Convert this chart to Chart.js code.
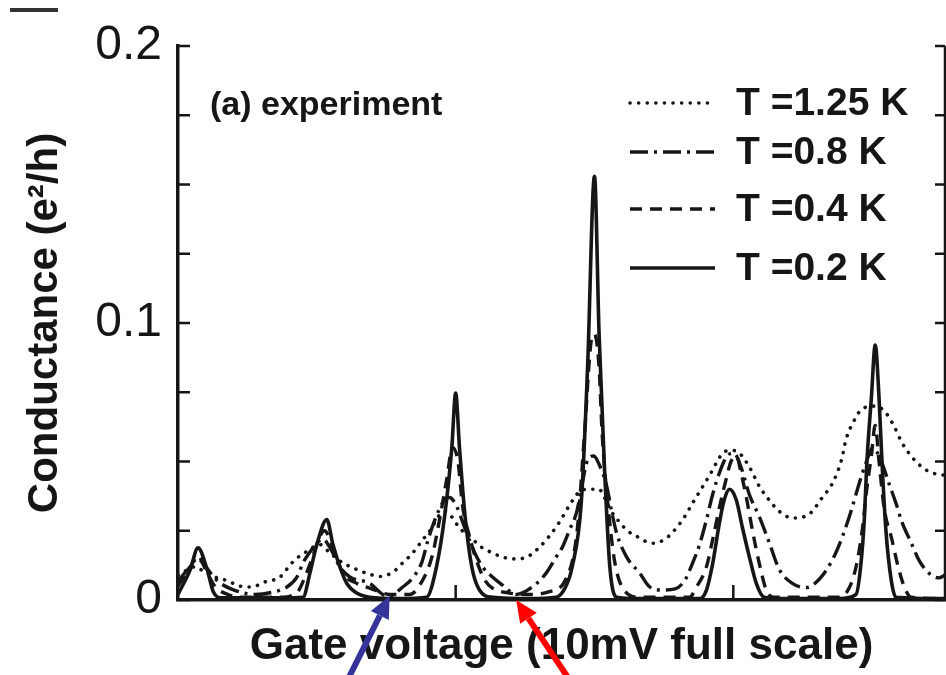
<!DOCTYPE html>
<html>
<head>
<meta charset="utf-8">
<title>Conductance vs gate voltage</title>
<script src="https://cdn.jsdelivr.net/npm/chart.js@4.4.1/dist/chart.umd.min.js"></script>
<style>
  html, body { margin: 0; padding: 0; background: #fff; }
</style>
</head>
<body>
<canvas id="myChart" width="946" height="675"></canvas>
<script>
// gate voltage in mV (10 mV full scale), conductance in e^2/h
var temps = ["T =1.25 K", "T =0.8 K", "T =0.4 K", "T =0.2 K"];

// T = 1.25 K (dotted)
var vT125 = [0, 0.13, 0.22, 0.35, 0.51, 0.64, 0.81, 0.96, 1.13, 1.33, 1.43, 1.52, 1.65, 1.76, 1.85, 1.98, 2.15, 2.33, 2.50, 2.63,
  2.80, 2.93, 3.06, 3.19, 3.31, 3.39, 3.48, 3.57, 3.67, 3.80, 3.96, 4.10, 4.23, 4.43, 4.58, 4.71, 4.84, 4.97, 5.10, 5.23,
  5.36, 5.49, 5.56, 5.65, 5.76, 5.86, 5.98, 6.11, 6.21, 6.35, 6.45, 6.58, 6.71, 6.82, 6.93, 7.03, 7.12, 7.23, 7.32, 7.45,
  7.58, 7.71, 7.84, 8.01, 8.23, 8.40, 8.53, 8.65, 8.71, 8.82, 8.92, 9.10, 9.23, 9.34, 9.44, 9.57, 9.70, 9.82, 10];
var gT125 = [0.009, 0.011, 0.012, 0.010, 0.008, 0.007, 0.005, 0.0047, 0.0065, 0.0083, 0.0115, 0.0144, 0.017, 0.019, 0.020, 0.017, 0.0134, 0.011, 0.0093, 0.0085,
  0.010, 0.0134, 0.017, 0.0217, 0.026, 0.030, 0.032, 0.030, 0.026, 0.023, 0.019, 0.017, 0.0155, 0.0148, 0.016, 0.019, 0.023, 0.028, 0.034, 0.039,
  0.040, 0.040, 0.037, 0.032, 0.028, 0.025, 0.023, 0.021, 0.0205, 0.022, 0.0245, 0.029, 0.035, 0.040, 0.045, 0.050, 0.0535, 0.054, 0.053, 0.048,
  0.041, 0.036, 0.032, 0.0296, 0.031, 0.037, 0.042, 0.0505, 0.058, 0.065, 0.069, 0.070, 0.0675, 0.0625, 0.0567, 0.0516, 0.048, 0.046, 0.045];

// T = 0.8 K (dash-dot)
var vT08 = [0, 0.16, 0.25, 0.36, 0.51, 0.74, 1.00, 1.26, 1.42, 1.55, 1.63, 1.72, 1.81, 1.89, 1.98, 2.11, 2.24, 2.50, 2.67, 2.76,
  2.93, 3.06, 3.18, 3.26, 3.35, 3.45, 3.54, 3.63, 3.70, 3.78, 3.87, 3.97, 4.10, 4.23, 4.41, 4.62, 4.80, 4.93, 5.01, 5.10,
  5.20, 5.27, 5.34, 5.42, 5.49, 5.59, 5.65, 5.72, 5.85, 6.02, 6.15, 6.32, 6.48, 6.61, 6.71, 6.80, 6.89, 6.97, 7.06, 7.16,
  7.25, 7.34, 7.45, 7.58, 7.71, 7.84, 8.01, 8.19, 8.36, 8.53, 8.66, 8.78, 8.88, 8.97, 9.06, 9.17, 9.27, 9.36, 9.44, 9.56,
  9.66, 9.79, 9.92, 10];
var gT08 = [0.007, 0.012, 0.015, 0.012, 0.007, 0.0035, 0.002, 0.003, 0.0047, 0.0083, 0.0134, 0.0173, 0.0206, 0.022, 0.019, 0.012, 0.0083, 0.006, 0.002, 0.0015,
  0.0047, 0.008, 0.0137, 0.0217, 0.029, 0.035, 0.037, 0.034, 0.029, 0.023, 0.017, 0.012, 0.0083, 0.0054, 0.002, 0.0047, 0.0097, 0.0155, 0.019, 0.025,
  0.032, 0.042, 0.0505, 0.052, 0.049, 0.041, 0.0325, 0.024, 0.0155, 0.0097, 0.0047, 0.0036, 0.004, 0.0072, 0.0134, 0.020, 0.029, 0.038, 0.046, 0.052,
  0.053, 0.048, 0.038, 0.030, 0.0206, 0.011, 0.006, 0.0045, 0.0075, 0.0144, 0.0227, 0.0325, 0.042, 0.0495, 0.055, 0.050, 0.042, 0.035, 0.028, 0.0206,
  0.0144, 0.0097, 0.008, 0.009];

// T = 0.4 K (dashed)
var vT04 = [0, 0.16, 0.26, 0.36, 0.48, 0.65, 0.87, 1.33, 1.56, 1.65, 1.76, 1.85, 1.91, 2.02, 2.15, 2.33, 2.50, 2.76, 3.02, 3.19,
  3.31, 3.41, 3.50, 3.58, 3.65, 3.71, 3.80, 3.89, 4.00, 4.10, 4.32, 4.58, 4.84, 5.05, 5.20, 5.30, 5.39, 5.43, 5.49, 5.53,
  5.60, 5.69, 5.79, 6.02, 6.67, 6.76, 6.89, 6.97, 7.08, 7.15, 7.21, 7.28, 7.34, 7.41, 7.49, 7.58, 7.67, 7.77, 8.62, 8.75,
  8.84, 8.92, 8.98, 9.04, 9.09, 9.14, 9.21, 9.30, 9.38, 9.47, 9.56, 10];
var gT04 = [0.005, 0.012, 0.016, 0.011, 0.005, 0.002, 0.001, 0.001, 0.003, 0.008, 0.016, 0.023, 0.025, 0.019, 0.0097, 0.006, 0.0043, 0.002, 0.002, 0.0072,
  0.0155, 0.029, 0.043, 0.055, 0.050, 0.034, 0.023, 0.0144, 0.0072, 0.0043, 0.0025, 0.002, 0.003, 0.0072, 0.024, 0.060, 0.094, 0.096, 0.084, 0.060,
  0.036, 0.0144, 0.0047, 0.001, 0.001, 0.0047, 0.012, 0.0217, 0.036, 0.044, 0.050, 0.052, 0.046, 0.037, 0.025, 0.013, 0.0036, 0.001, 0.001, 0.0043,
  0.012, 0.025, 0.040, 0.052, 0.063, 0.050, 0.0325, 0.0227, 0.013, 0.0047, 0.001, 0.0005];

// T = 0.2 K (solid)
var vT02 = [0, 0.16, 0.26, 0.38, 0.46, 0.57, 0.96, 1.33, 1.63, 1.72, 1.81, 1.94, 2.02, 2.11, 2.20, 2.33, 2.50, 2.89, 3.24, 3.37,
  3.48, 3.57, 3.62, 3.67, 3.74, 3.83, 3.93, 4.10, 4.58, 4.93, 5.04, 5.14, 5.26, 5.34, 5.43, 5.49, 5.56, 5.63, 5.72, 5.98,
  6.80, 6.89, 6.97, 7.06, 7.12, 7.19, 7.28, 7.36, 7.45, 7.54, 7.64, 7.84, 8.62, 8.84, 8.90, 8.95, 8.98, 9.04, 9.09, 9.14,
  9.18, 9.23, 9.30, 9.36, 10];
var gT02 = [0.002, 0.011, 0.0188, 0.011, 0.003, 0.0008, 0.0008, 0.0008, 0.001, 0.0097, 0.020, 0.029, 0.020, 0.012, 0.006, 0.0025, 0.001, 0.0005, 0.001, 0.012,
  0.031, 0.055, 0.0747, 0.055, 0.031, 0.012, 0.0036, 0.001, 0.0005, 0.001, 0.004, 0.012, 0.036, 0.084, 0.153, 0.096, 0.048, 0.012, 0.001, 0.0005,
  0.0005, 0.0036, 0.013, 0.028, 0.036, 0.040, 0.036, 0.026, 0.0155, 0.006, 0.001, 0.0005, 0.0005, 0.002, 0.012, 0.030, 0.049, 0.073, 0.092, 0.073,
  0.049, 0.025, 0.007, 0.001, 0.0005];

// x tick marks (every 1/3 of the printed frame)
var gateTicks = [0, 3.62, 7.24];

// arrows added on the figure: tip in data units
var arrowTips = [
  { x: 2.76, y: 0.0015, color: "#34349a", dx: -42, dy: 84 },
  { x: 4.41, y: 0.0, color: "#ff0000", dx: 52, dy: 78 }
];

var FONT = '"Liberation Sans", Arial, sans-serif';
var INK = "#161616";

function pts(xs, ys) {
  var out = [];
  for (var i = 0; i < xs.length; i++) out.push({ x: xs[i], y: ys[i] });
  return out;
}

var decor = {
  id: "decor",
  afterDraw: function(chart) {
    var ctx = chart.ctx;
    var a = chart.chartArea;
    var xs = chart.scales.x, ys = chart.scales.y;
    ctx.save();
    ctx.strokeStyle = INK;

    // right frame line
    ctx.lineWidth = 2.5;
    ctx.beginPath();
    ctx.moveTo(a.right, a.top);
    ctx.lineTo(a.right, a.bottom);
    ctx.stroke();

    // inward tick marks
    ctx.lineWidth = 2.5;
    ys.ticks.forEach(function(t) {
      var y = ys.getPixelForValue(t.value);
      ctx.beginPath();
      ctx.moveTo(a.left, y); ctx.lineTo(a.left + 12, y);
      ctx.moveTo(a.right, y); ctx.lineTo(a.right - 10, y);
      ctx.stroke();
    });
    xs.ticks.forEach(function(t) {
      if (t.value <= 0) return;
      var x = xs.getPixelForValue(t.value);
      ctx.beginPath();
      ctx.moveTo(x, a.bottom); ctx.lineTo(x, a.bottom - 15);
      ctx.stroke();
    });

    // panel label
    ctx.fillStyle = INK;
    ctx.font = "bold 34px " + FONT;
    ctx.textBaseline = "middle";
    ctx.textAlign = "left";
    ctx.fillText("(a) experiment", a.left + 32, 106);

    // legend
    var rows = [103, 152, 209, 268];
    chart.data.datasets.forEach(function(ds, i) {
      ctx.save();
      ctx.lineWidth = ds.borderWidth;
      ctx.lineCap = ds.borderCapStyle || "butt";
      ctx.setLineDash(ds.borderDash || []);
      ctx.beginPath();
      ctx.moveTo(630, rows[i]);
      ctx.lineTo(715, rows[i]);
      ctx.stroke();
      ctx.restore();
      ctx.font = "bold 39px " + FONT;
      ctx.fillText(ds.label, 736, rows[i] + 1);
    });

    // little bar at top left
    ctx.lineWidth = 4;
    ctx.strokeStyle = "#333";
    ctx.beginPath();
    ctx.moveTo(10, 10); ctx.lineTo(58, 10);
    ctx.stroke();

    // arrows
    arrowTips.forEach(function(ar) {
      var tx = xs.getPixelForValue(ar.x), ty = ys.getPixelForValue(ar.y);
      var ang = Math.atan2(-ar.dy, -ar.dx);
      var head = 22, half = 10;
      var bx = tx - head * Math.cos(ang), by = ty - head * Math.sin(ang);
      ctx.strokeStyle = ar.color;
      ctx.fillStyle = ar.color;
      ctx.lineWidth = 6;
      ctx.beginPath();
      ctx.moveTo(tx + ar.dx, ty + ar.dy);
      ctx.lineTo(bx, by);
      ctx.stroke();
      ctx.beginPath();
      ctx.moveTo(tx, ty);
      ctx.lineTo(bx + half * Math.sin(ang), by - half * Math.cos(ang));
      ctx.lineTo(bx - half * Math.sin(ang), by + half * Math.cos(ang));
      ctx.closePath();
      ctx.fill();
    });
    ctx.restore();
  }
};

new Chart("myChart", {
  type: "line",
  data: {
    datasets: [{
      label: temps[0],
      data: pts(vT125, gT125),
      borderColor: INK,
      borderWidth: 3.6,
      borderDash: [0.1, 8.5],
      borderCapStyle: "round"
    }, {
      label: temps[1],
      data: pts(vT08, gT08),
      borderColor: INK,
      borderWidth: 3.4,
      borderDash: [18, 6, 3, 6]
    }, {
      label: temps[2],
      data: pts(vT04, gT04),
      borderColor: INK,
      borderWidth: 3.4,
      borderDash: [12, 8]
    }, {
      label: temps[3],
      data: pts(vT02, gT02),
      borderColor: INK,
      borderWidth: 3.6
    }]
  },
  options: {
    responsive: false,
    animation: false,
    events: [],
    cubicInterpolationMode: "monotone",
    pointRadius: 0,
    layout: { padding: { top: 46, right: 1, left: 0, bottom: 0 } },
    plugins: {
      legend: { display: false },
      tooltip: { enabled: false }
    },
    scales: {
      x: {
        type: "linear",
        min: 0,
        max: 10,
        afterBuildTicks: function(scale) {
          scale.ticks = gateTicks.map(function(v) { return { value: v }; });
        },
        afterFit: function(scale) { scale.height = 75; },
        grid: { display: false, drawTicks: false },
        border: { display: true, color: INK, width: 3.5 },
        ticks: { display: false },
        title: {
          display: true,
          text: "Gate voltage (10mV full scale)",
          color: INK,
          font: { family: FONT, size: 44, weight: "bold" },
          padding: { top: 0, bottom: 2 }
        }
      },
      y: {
        min: 0,
        max: 0.2,
        afterFit: function(scale) { scale.width = 178; },
        grid: { display: false, drawTicks: false },
        border: { display: true, color: INK, width: 3.5 },
        ticks: {
          stepSize: 0.025,
          autoSkip: false,
          padding: 16,
          color: INK,
          font: { family: FONT, size: 48 },
          callback: function(v) {
            var r = Math.round(v * 10);
            if (Math.abs(v * 10 - r) > 1e-6) return "";
            return r === 0 ? "0" : (r / 10).toFixed(1);
          }
        },
        title: {
          display: true,
          text: "Conductance (e²/h)",
          color: INK,
          font: { family: FONT, size: 42, weight: "bold" },
          padding: { top: 20, bottom: 0 }
        }
      }
    }
  },
  plugins: [decor]
});
</script>
</body>
</html>
